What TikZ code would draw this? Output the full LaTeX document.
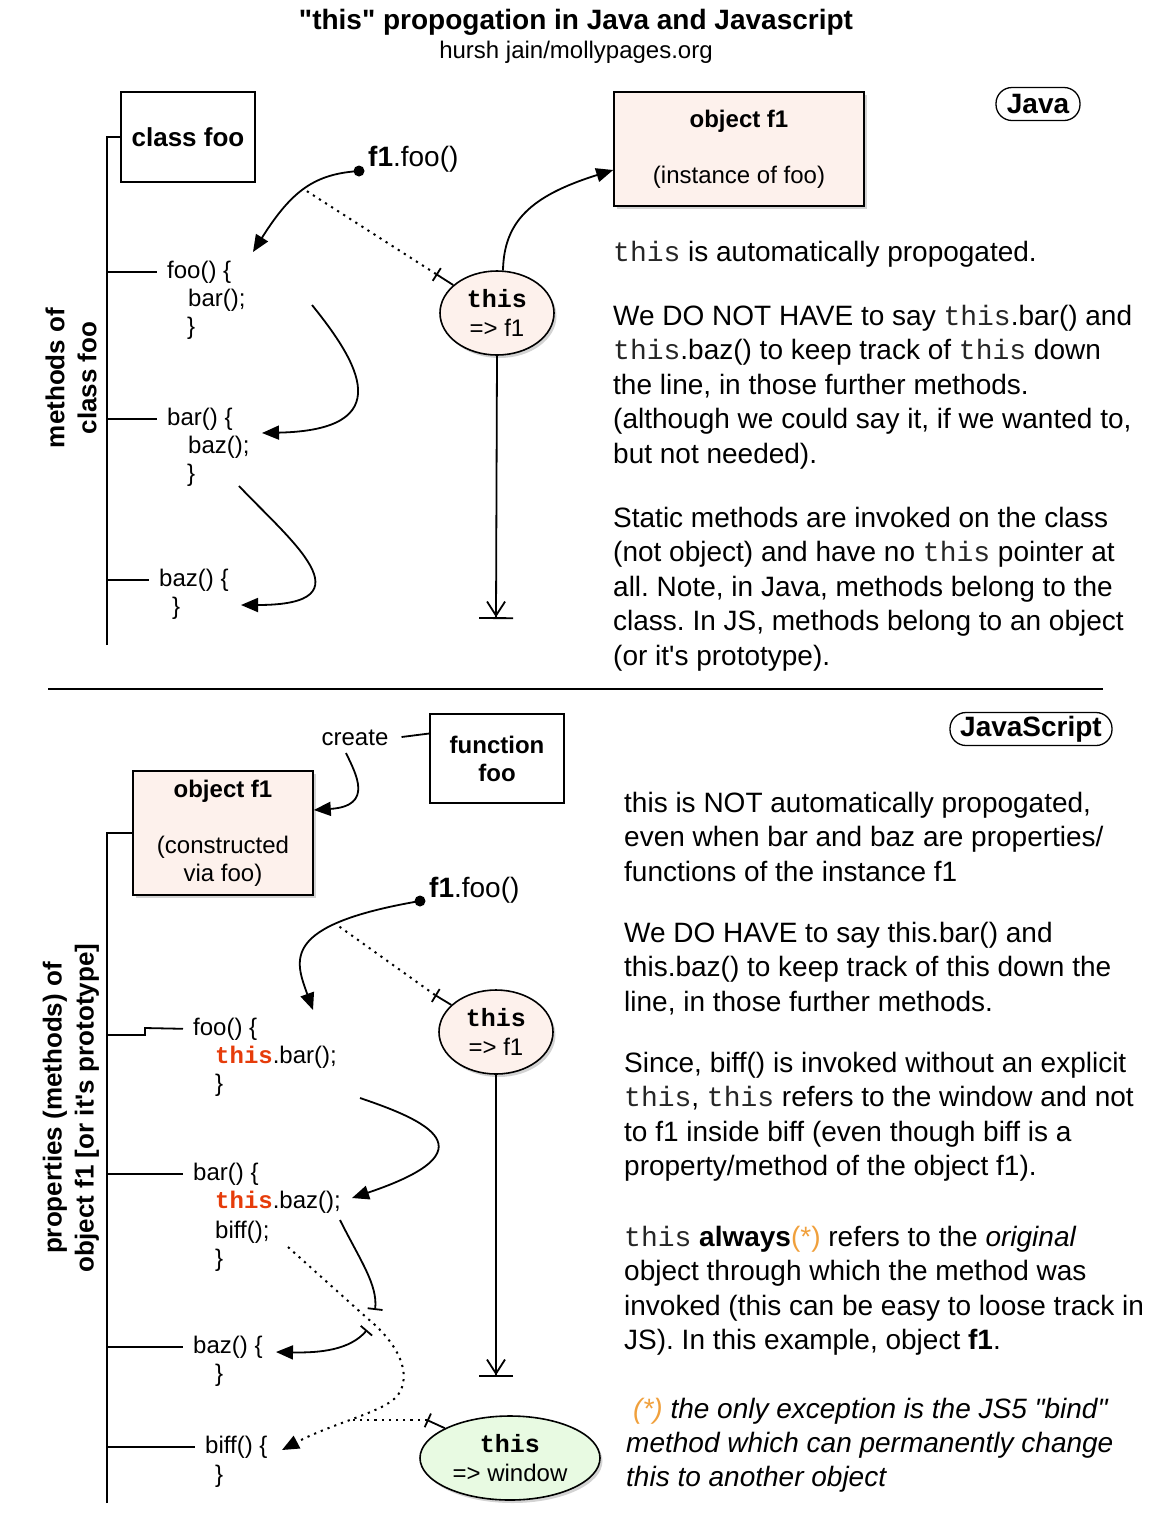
\documentclass[tikz,border=0pt]{standalone}
\usepackage{fontspec}
\setmainfont{Liberation Sans}
\setsansfont{Liberation Sans}
\setmonofont{Liberation Mono}
\usetikzlibrary{arrows.meta,shapes.geometric,shadows}
\frenchspacing
\definecolor{pinkfill}{RGB}{253,241,236}
\definecolor{greenfill}{RGB}{232,250,226}
\definecolor{codered}{RGB}{230,60,10}
\definecolor{orng}{RGB}{240,160,60}
\newcommand\tth[1]{{\ttfamily\color{black!85}#1}}
\newcommand\cth{{\ttfamily\bfseries\color{codered}this}}
\tikzset{
  lw/.style={line width=1.8pt},
  box/.style={draw, line width=1.6pt, inner sep=0pt, align=center},
  objbox/.style={box, fill=pinkfill, drop shadow={shadow xshift=2.5pt, shadow yshift=-3pt, opacity=0.35}},
  thisell/.style={ellipse, draw, line width=1.6pt, fill=pinkfill, inner sep=0pt,
    minimum width=114pt, minimum height=84pt, align=center,
    font=\fontsize{24}{29}\selectfont,
    drop shadow={shadow xshift=2.5pt, shadow yshift=-3pt, opacity=0.35}},
  body/.style={anchor=base west, inner sep=0pt, font=\fontsize{28}{34.5}\selectfont},
  code/.style={anchor=base west, inner sep=0pt, font=\fontsize{24}{28}\selectfont},
  arr/.style={lw, -{Triangle[length=17pt,width=14pt]}},
  dots/.style={line width=2pt, dash pattern=on 2.2pt off 5pt},
  tag/.style={draw, line width=1.3pt, rounded corners=16pt, inner sep=0pt,
    minimum height=33pt, font=\fontsize{28}{30}\selectfont\bfseries},
  ground/.style={lw, -{Straight Barb[length=14pt,width=18pt] Bar[width=34pt]}},
  tstart/.style={lw, {Bar[width=15pt]}-},
  dotnode/.style={circle, fill=black, inner sep=0pt, minimum size=11pt}
}
\begin{document}
\begin{tikzpicture}[x=1pt,y=-1pt]
\useasboundingbox (0,0) rectangle (1175,1535);

% ---------- title ----------
\node[inner sep=0pt, font=\fontsize{28}{30}\selectfont\bfseries] (title) at (576,22) {\textquotedbl this\textquotedbl{} propogation in Java and Javascript};
\node[inner sep=0pt, font=\fontsize{24}{28}\selectfont] (subtitle) at (576,52) {hursh jain/mollypages.org};

% ================= JAVA =================
\node[tag, minimum width=84pt] (javatag) at (1038,104) {Java};
\node[box, minimum width=134pt, minimum height=90pt, font=\fontsize{26}{30}\selectfont\bfseries] (jcls) at (188,137) {class foo};
\node[objbox, minimum width=250pt, minimum height=114pt, font=\fontsize{24}{28}\selectfont] (jobj) at (739,149) {\textbf{object f1}\\[28pt](instance of foo)};

% spine
\coordinate (jspT) at (107,137);
\coordinate (jspB) at (107,645);
\draw[lw] (jspB) -- (jspT) -- (jcls.west);
\node[rotate=90, align=center, inner sep=0pt, font=\fontsize{26}{32}\selectfont\bfseries] (jlab) at (71,378) {methods of\\class foo};

% code
\node[code] (jfoo) at (167,278) {foo() \{};
\node[code] (jfoo2) at (188,306) {bar();};
\node[code] (jfoo3) at (187,334) {\}};
\node[code] (jbar) at (167,425) {bar() \{};
\node[code] (jbar2) at (188,453) {baz();};
\node[code] (jbar3) at (187,481) {\}};
\node[code] (jbaz) at (159,586) {baz() \{};
\node[code] (jbaz2) at (172,614) {\}};
\draw[lw] (jfoo.west -| jspT) -- ([xshift=-10pt]jfoo.west);
\draw[lw] (jbar.west -| jspT) -- ([xshift=-10pt]jbar.west);
\draw[lw] (jbaz.west -| jspT) -- ([xshift=-10pt]jbaz.west);

% call
\node[dotnode] (jdot) at (359,171) {};
\node[anchor=base west, inner sep=0pt, font=\fontsize{28}{30}\selectfont] (jcall) at (368,166) {\textbf{f1}.foo()};
\node[thisell] (jthis) at (497,313) {{\fontsize{25}{29}\ttfamily\bfseries this}\\=> f1};

\coordinate (ja1) at (253,252);
\draw[arr] (jdot.center) .. controls (315,174) and (292,190) .. coordinate[pos=0.5] (jc) (ja1);
\coordinate (jtb) at (436,274);
\draw[tstart] (jtb) -- (jthis);
\draw[dots] (jtb) -- (jc);

\draw[arr] (jthis.82) .. controls (504,222) and (530,196) .. ([yshift=-21pt]jobj.west);
\coordinate (jgnd) at (496,619);
\draw[ground] (jthis.south) -- (jgnd);

\coordinate (jb2s) at (312,305);
\coordinate (ja2) at (262,433);
\draw[arr] (jb2s) .. controls (358,362) and (400,430) .. (ja2);
\coordinate (jb3s) at (239,486);
\coordinate (ja3) at (241,605);
\draw[arr] (jb3s) .. controls (290,540) and (372,605) .. (ja3);

% Java text
\node[body] (j1) at (613,261) {\tth{this} is automatically propogated.};
\node[body] (j2) at (613,325) {We DO NOT HAVE to say \tth{this}.bar() and};
\node[body] (j3) at (613,359.5) {\tth{this}.baz() to keep track of \tth{this} down};
\node[body] (j4) at (613,394) {the line, in those further methods.};
\node[body] (j5) at (613,428.5) {(although we could say it, if we wanted to,};
\node[body] (j6) at (613,463) {but not needed).};
\node[body] (j7) at (613,527) {Static methods are invoked on the class};
\node[body] (j8) at (613,561.5) {(not object) and have no \tth{this} pointer at};
\node[body] (j9) at (613,596) {all. Note, in Java, methods belong to the};
\node[body] (j10) at (613,630.5) {class. In JS, methods belong to an object};
\node[body] (j11) at (613,665) {(or it\textquotesingle s prototype).};

% separator
\draw[line width=1.6pt] (48,689) -- (1103,689);

% ================= JAVASCRIPT =================
\node[tag, minimum width=162pt] (jstag) at (1031,729) {JavaScript};
\node[box, minimum width=134pt, minimum height=89pt, font=\fontsize{24}{28}\selectfont\bfseries] (jsfunc) at (497,758.5) {function\\foo};
\node[objbox, minimum width=180pt, minimum height=124pt, font=\fontsize{24}{28}\selectfont] (jsobj) at (223,833) {\textbf{object f1}\\[28pt](constructed\\via foo)};
\node[inner sep=0pt, font=\fontsize{24}{28}\selectfont] (create) at (355,738) {create};
\draw[lw] ([xshift=13pt,yshift=1pt]create.east) -- ([yshift=25pt]jsfunc.west);
\coordinate (crs) at (346,753);
\draw[arr] (crs) .. controls (356,774) and (374,806) .. ([yshift=23pt]jsobj.east);

% spine
\coordinate (jsspT) at (107,833);
\coordinate (jsspB) at (107,1503);
\draw[lw] (jsspB) -- (jsspT) -- (jsobj.west |- jsspT);
\node[rotate=90, align=center, inner sep=0pt, font=\fontsize{26}{32}\selectfont\bfseries] (jslab) at (71,1108) {properties (methods) of\\object f1 [or it\textquotesingle s prototype]};

% code
\node[code] (sfoo) at (193,1035) {foo() \{};
\node[code] (sfoo2) at (215,1063) {\cth.bar();};
\node[code] (sfoo3) at (215,1091) {\}};
\node[code] (sbar) at (193,1180) {bar() \{};
\node[code] (sbar2) at (215,1208) {\cth.baz();};
\node[code] (sbar3) at (215,1238) {biff();};
\node[code] (sbar4) at (215,1266) {\}};
\node[code] (sbaz) at (193,1353) {baz() \{};
\node[code] (sbaz2) at (215,1381) {\}};
\node[code] (sbiff) at (205,1453) {biff() \{};
\node[code] (sbiff2) at (215,1482) {\}};
\draw[lw] (107,1035) -- (145,1035) -- (145,1028) -- ([xshift=-10pt]sfoo.west);
\draw[lw] (sbar.west -| jsspT) -- ([xshift=-10pt]sbar.west);
\draw[lw] (sbaz.west -| jsspT) -- ([xshift=-10pt]sbaz.west);
\draw[lw] (sbiff.west -| jsspT) -- ([xshift=-10pt]sbiff.west);

% call
\node[dotnode] (jsdot) at (420,901) {};
\node[anchor=base west, inner sep=0pt, font=\fontsize{28}{30}\selectfont] (jscall) at (429,897) {\textbf{f1}.foo()};
\node[thisell] (jsthis) at (496,1032) {{\fontsize{25}{29}\ttfamily\bfseries this}\\=> f1};
\coordinate (sa1) at (313,1010);
\draw[arr] (jsdot.center) .. controls (280,925) and (295,960) .. coordinate[pos=0.28] (jsc) (sa1);
\coordinate (jstb) at (435,995);
\draw[tstart] (jstb) -- (jsthis);
\draw[dots] (jstb) -- (jsc);
\coordinate (jsgnd) at (496,1377);
\draw[ground] (jsthis.south) -- (jsgnd);

% foo -> bar
\coordinate (sb2s) at (360,1098);
\coordinate (sa2) at (352,1198);
\draw[arr] (sb2s) .. controls (425,1120) and (495,1150) .. (sa2);
% bar -> baz (broken)
\coordinate (sb3s) at (340,1220);
\coordinate (sb3e) at (375,1310);
\draw[lw, -{Bar[width=15pt]}] (sb3s) .. controls (360,1260) and (378,1285) .. (sb3e);
\coordinate (sb3t) at (367,1330);
\coordinate (sa3) at (276,1352);
\draw[lw, {Bar[width=15pt]}-{Triangle[length=17pt,width=14pt]}] (sb3t) .. controls (350,1350) and (320,1353) .. (sa3);
% biff dotted
\coordinate (sb4s) at (288,1247);
\coordinate (sb4m) at (367,1318);
\coordinate (sa4) at (282,1450);
\draw[dots, -{Triangle[length=17pt,width=14pt]}] (sb4s) -- (sb4m) .. controls (400,1345) and (412,1375) .. (398,1395) .. controls (385,1412) and (335,1422) .. (sa4);

% window
\node[thisell, fill=greenfill, minimum width=180pt] (win) at (510,1458) {{\fontsize{25}{29}\ttfamily\bfseries this}\\=> window};
\coordinate (wtb) at (427,1420);
\coordinate (wjoin) at (352,1420);
\draw[tstart] (wtb) -- (win);
\draw[dots] (wtb) -- (wjoin);

% JS text
\node[body] (s1) at (624,812) {this is NOT automatically propogated,};
\node[body] (s2) at (624,846.5) {even when bar and baz are properties/};
\node[body] (s3) at (624,881) {functions of the instance f1};
\node[body] (s4) at (624,942) {We DO HAVE to say this.bar() and};
\node[body] (s5) at (624,976.5) {this.baz() to keep track of this down the};
\node[body] (s6) at (624,1011) {line, in those further methods.};
\node[body] (s7) at (624,1072) {Since, biff() is invoked without an explicit};
\node[body] (s8) at (624,1106.5) {\tth{this}, \tth{this} refers to the window and not};
\node[body] (s9) at (624,1141) {to f1 inside biff (even though biff is a};
\node[body] (s10) at (624,1175.5) {property/method of the object f1).};
\node[body] (s11) at (624,1246) {\tth{this} \textbf{always}\textcolor{orng}{(*)} refers to the \textit{original}};
\node[body] (s12) at (624,1280.5) {object through which the method was};
\node[body] (s13) at (624,1315) {invoked (this can be easy to loose track in};
\node[body] (s14) at (624,1349.5) {JS). In this example, object \textbf{f1}.};
\node[body] (s15) at (633,1418) {\textit{\textcolor{orng}{(*)} the only exception is the JS5 \textquotedbl bind\textquotedbl}};
\node[body] (s16) at (626,1452) {\textit{method which can permanently change}};
\node[body] (s17) at (626,1486) {\textit{this to another object}};
\end{tikzpicture}
\end{document}
